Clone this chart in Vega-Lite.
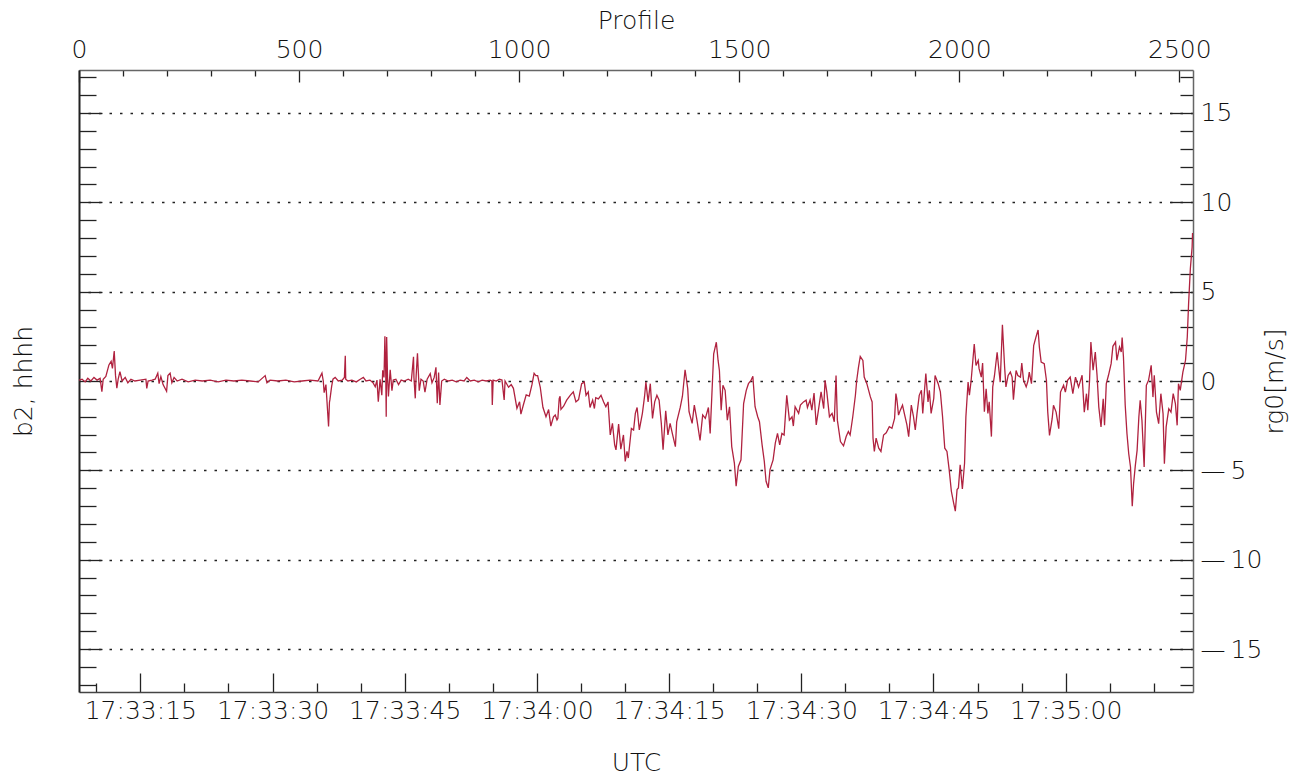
{
  "$schema": "https://vega.github.io/schema/vega-lite/v6.json",
  "autosize": "none",
  "width": 1114,
  "height": 622,
  "padding": {"left": 79, "top": 70, "right": 122, "bottom": 89},
  "background": "white",
  "config": {
    "view": {"stroke": null},
    "axis": {
      "labelFont": "DejaVu Sans",
      "titleFont": "DejaVu Sans",
      "labelFontSize": 25,
      "titleFontSize": 25,
      "labelFontWeight": 200,
      "titleFontWeight": 200,
      "labelColor": "#111111",
      "titleColor": "#111111",
      "domainColor": "#444444",
      "domainWidth": 1.5,
      "tickColor": "#222222",
      "tickWidth": 1.3,
      "labelOverlap": false,
      "labelFlush": false,
      "grid": false
    }
  },
  "layer": [
    {
      "data": {"values": [
        {"p":0,"v":0.05},{"p":7,"v":0.1},{"p":14,"v":-0.05},{"p":20,"v":0.15},{"p":27,"v":0.0},{"p":34,"v":0.2},{"p":41,"v":0.05},{"p":48,"v":0.15},{"p":52,"v":-0.6},{"p":55,"v":0.1},{"p":61,"v":0.25},{"p":68,"v":0.9},{"p":73,"v":1.1},{"p":76,"v":0.7},{"p":80,"v":1.68},{"p":83,"v":0.3},{"p":86,"v":-0.4},{"p":89,"v":0.1},{"p":93,"v":0.52},{"p":98,"v":0.0},{"p":105,"v":0.2},{"p":111,"v":-0.1},{"p":118,"v":0.1},{"p":127,"v":0.0},{"p":139,"v":0.05},{"p":152,"v":0.1},{"p":154,"v":-0.41},{"p":157,"v":0.0},{"p":166,"v":0.05},{"p":173,"v":0.1},{"p":179,"v":0.44},{"p":182,"v":-0.15},{"p":186,"v":0.25},{"p":191,"v":-0.2},{"p":199,"v":-0.57},{"p":202,"v":0.3},{"p":207,"v":0.44},{"p":211,"v":-0.1},{"p":216,"v":0.2},{"p":223,"v":0.0},{"p":234,"v":0.1},{"p":248,"v":-0.05},{"p":264,"v":0.05},{"p":280,"v":0.0},{"p":298,"v":0.05},{"p":316,"v":-0.05},{"p":334,"v":0.05},{"p":352,"v":0.0},{"p":370,"v":0.05},{"p":389,"v":0.0},{"p":407,"v":-0.05},{"p":423,"v":0.3},{"p":427,"v":-0.1},{"p":434,"v":0.05},{"p":452,"v":0.0},{"p":470,"v":0.05},{"p":489,"v":-0.05},{"p":507,"v":0.0},{"p":525,"v":0.05},{"p":543,"v":0.0},{"p":552,"v":0.44},{"p":555,"v":0.0},{"p":557,"v":-0.65},{"p":561,"v":-0.2},{"p":567,"v":-2.55},{"p":569,"v":-1.2},{"p":570,"v":-1.06},{"p":574,"v":-0.3},{"p":577,"v":0.1},{"p":582,"v":0.2},{"p":589,"v":0.0},{"p":598,"v":0.05},{"p":603,"v":0.2},{"p":605,"v":1.41},{"p":606,"v":0.1},{"p":611,"v":0.0},{"p":620,"v":0.05},{"p":630,"v":-0.05},{"p":639,"v":0.1},{"p":646,"v":0.2},
        {"p":652,"v":0.0},{"p":661,"v":0.05},{"p":668,"v":-0.1},{"p":673,"v":-0.32},{"p":677,"v":0.05},{"p":680,"v":-1.16},{"p":684,"v":0.1},{"p":688,"v":-0.8},{"p":690,"v":0.6},{"p":693,"v":0.2},{"p":695,"v":2.5},{"p":697,"v":0.3},{"p":698,"v":-2.0},{"p":699,"v":2.46},{"p":701,"v":0.2},{"p":703,"v":-0.86},{"p":707,"v":0.63},{"p":711,"v":-0.54},{"p":714,"v":0.05},{"p":720,"v":0.1},{"p":726,"v":-0.2},{"p":732,"v":0.05},{"p":739,"v":0.0},{"p":748,"v":0.1},{"p":755,"v":0.0},{"p":760,"v":1.36},{"p":761,"v":0.2},{"p":764,"v":-0.97},{"p":766,"v":0.3},{"p":769,"v":1.55},{"p":771,"v":0.5},{"p":773,"v":-0.54},{"p":777,"v":0.1},{"p":782,"v":0.0},{"p":786,"v":-0.63},{"p":791,"v":0.1},{"p":798,"v":0.41},{"p":802,"v":-0.1},{"p":807,"v":0.2},{"p":811,"v":0.77},{"p":814,"v":-1.25},{"p":817,"v":0.47},{"p":820,"v":-1.34},{"p":824,"v":0.0},{"p":830,"v":0.1},{"p":839,"v":0.0},{"p":848,"v":0.05},{"p":857,"v":-0.05},{"p":866,"v":0.05},{"p":875,"v":0.0},{"p":881,"v":0.2},{"p":889,"v":0.0},{"p":898,"v":0.05},{"p":907,"v":-0.05},{"p":916,"v":0.05},{"p":925,"v":0.0},{"p":934,"v":0.05},{"p":938,"v":0.0},{"p":939,"v":-1.34},{"p":941,"v":0.05},{"p":948,"v":0.0},{"p":955,"v":0.1},{"p":961,"v":0.05},{"p":966,"v":-1.06},{"p":968,"v":0.0},{"p":976,"v":-0.35},{"p":982,"v":-0.2},{"p":987,"v":-0.41},{"p":995,"v":-1.53},{"p":1001,"v":-1.16},{"p":1004,"v":-1.85},{"p":1010,"v":-1.3},{"p":1016,"v":-0.78},{"p":1023,"v":-0.85},{"p":1029,"v":-0.22},{"p":1034,"v":0.43},{"p":1038,"v":0.3},{"p":1042,"v":0.3},{"p":1048,"v":-0.35},{"p":1054,"v":-1.47},{"p":1061,"v":-2.0},{"p":1067,"v":-1.6},{"p":1072,"v":-2.52},{"p":1078,"v":-2.0},{"p":1082,"v":-1.9},{"p":1086,"v":-2.18},{"p":1088,"v":-2.09},{"p":1091,"v":-0.98},{"p":1093,"v":-0.85},{"p":1095,"v":-1.59},{"p":1101,"v":-1.41},{"p":1108,"v":-1.07},{"p":1116,"v":-0.8},{"p":1123,"v":-0.61},{"p":1129,"v":-1.17},{"p":1135,"v":-1.04},{"p":1142,"v":-0.15},{"p":1148,"v":-0.06},{"p":1152,"v":-0.8},{"p":1157,"v":-0.61},{"p":1161,"v":-1.48},{"p":1167,"v":-1.07},{"p":1171,"v":-1.54},{"p":1174,"v":-0.93},{"p":1180,"v":-1.0},{"p":1186,"v":-0.8},{"p":1192,"v":-1.17},{"p":1197,"v":-1.44},{"p":1202,"v":-1.17},{"p":1207,"v":-3.02},{"p":1212,"v":-2.37},{"p":1217,"v":-3.57},{"p":1220,"v":-3.85},{"p":1226,"v":-2.41},{"p":1231,"v":-3.81},{"p":1237,"v":-3.02},{"p":1241,"v":-4.5},{"p":1245,"v":-3.94},{"p":1248,"v":-4.31},{"p":1255,"v":-2.65},{"p":1260,"v":-2.74},{"p":1264,"v":-1.81},{"p":1268,"v":-1.48},{"p":1273,"v":-2.74},{"p":1280,"v":-1.81},{"p":1285,"v":-0.85},{"p":1288,"v":-0.06},{"p":1293,"v":-1.17},{"p":1298,"v":-0.15},{"p":1303,"v":-2.09},{"p":1308,"v":-1.17},{"p":1313,"v":-0.8},{"p":1318,"v":-1.07},{"p":1323,"v":-2.37},{"p":1327,"v":-3.85},{"p":1333,"v":-1.67},{"p":1338,"v":-3.02},{"p":1343,"v":-2.37},{"p":1348,"v":-2.93},{"p":1355,"v":-3.67},{"p":1358,"v":-2.28},{"p":1366,"v":-1.48},{"p":1371,"v":-0.85},{"p":1377,"v":0.63},{"p":1383,"v":-0.43},{"p":1386,"v":-1.72},{"p":1393,"v":-2.37},{"p":1398,"v":-1.35},{"p":1404,"v":-2.19},{"p":1411,"v":-3.33},{"p":1417,"v":-1.9},{"p":1423,"v":-2.09},{"p":1430,"v":-1.48},{"p":1434,"v":-2.93},{"p":1438,"v":-0.7},{"p":1442,"v":1.52},{"p":1448,"v":2.17},{"p":1452,"v":1.15},{"p":1455,"v":0.59},{"p":1459,"v":-1.63},{"p":1463,"v":-0.24},{"p":1468,"v":-0.52},{"p":1473,"v":-2.19},{"p":1478,"v":-1.44},{"p":1483,"v":-3.67},{"p":1489,"v":-4.59},{"p":1493,"v":-5.89},{"p":1498,"v":-4.78},{"p":1504,"v":-4.41},{"p":1510,"v":-1.26},{"p":1516,"v":-0.52},{"p":1521,"v":-0.15},{"p":1527,"v":0.04},{"p":1531,"v":0.26},{"p":1536,"v":-1.44},{"p":1542,"v":-2.0},{"p":1546,"v":-2.28},{"p":1552,"v":-3.57},{"p":1557,"v":-4.5},{"p":1561,"v":-5.61},{"p":1566,"v":-5.98},{"p":1570,"v":-4.96},{"p":1577,"v":-4.41},{"p":1582,"v":-3.48},{"p":1587,"v":-2.93},{"p":1592,"v":-3.57},{"p":1597,"v":-2.93},{"p":1602,"v":-3.02},{"p":1608,"v":-0.8},{"p":1614,"v":-2.19},{"p":1620,"v":-2.0},{"p":1623,"v":-2.52},{"p":1627,"v":-1.44},{"p":1635,"v":-1.81},{"p":1639,"v":-1.35},{"p":1646,"v":-1.17},{"p":1652,"v":-1.07},{"p":1655,"v":-1.48},{"p":1661,"v":-1.07},{"p":1665,"v":-1.63},{"p":1670,"v":-0.67},{"p":1675,"v":-2.46},{"p":1680,"v":-1.63},{"p":1686,"v":-0.61},{"p":1692,"v":-1.54},{"p":1695,"v":0.04},{"p":1699,"v":-0.61},{"p":1705,"v":-2.0},{"p":1711,"v":-1.81},{"p":1716,"v":-2.28},{"p":1720,"v":0.31},{"p":1723,"v":-2.19},{"p":1730,"v":-3.39},{"p":1737,"v":-3.63},{"p":1743,"v":-3.11},{"p":1748,"v":-2.83},{"p":1752,"v":-3.02},{"p":1758,"v":-2.0},{"p":1764,"v":-0.8},{"p":1767,"v":0.04},{"p":1771,"v":0.78},{"p":1775,"v":1.37},{"p":1781,"v":1.15},{"p":1784,"v":0.22},{"p":1790,"v":-0.15},{"p":1798,"v":-0.89},{"p":1802,"v":-1.17},{"p":1804,"v":-3.2},{"p":1807,"v":-3.94},{"p":1811,"v":-3.2},{"p":1817,"v":-3.76},{"p":1822,"v":-3.94},{"p":1828,"v":-3.02},{"p":1834,"v":-2.9},{"p":1841,"v":-2.56},{"p":1847,"v":-2.65},{"p":1853,"v":-2.09},{"p":1856,"v":-0.7},{"p":1858,"v":-0.98},{"p":1862,"v":-1.91},{"p":1866,"v":-1.63},{"p":1871,"v":-1.35},{"p":1876,"v":-1.91},{"p":1881,"v":-2.46},{"p":1885,"v":-3.11},{"p":1891,"v":-1.35},{"p":1896,"v":-2.0},{"p":1900,"v":-2.74},{"p":1904,"v":-1.81},{"p":1909,"v":-0.8},{"p":1914,"v":-0.52},{"p":1917,"v":-1.81},{"p":1921,"v":-0.52},{"p":1924,"v":0.41},{"p":1929,"v":-1.17},{"p":1932,"v":-0.52},{"p":1936,"v":-1.81},{"p":1942,"v":-0.98},{"p":1945,"v":0.31},{"p":1952,"v":-0.15},{"p":1957,"v":-0.61},{"p":1962,"v":-2.0},{"p":1967,"v":-3.76},{"p":1972,"v":-3.94},{"p":1977,"v":-4.96},{"p":1982,"v":-6.17},{"p":1987,"v":-6.81},{"p":1991,"v":-7.28},{"p":1995,"v":-6.07},{"p":1998,"v":-5.98},{"p":2002,"v":-4.69},{"p":2007,"v":-6.04},{"p":2012,"v":-4.59},{"p":2015,"v":-2.0},{"p":2020,"v":-0.06},{"p":2023,"v":-0.8},{"p":2027,"v":0.04},{"p":2034,"v":2.07},{"p":2038,"v":0.87},{"p":2043,"v":1.15},{"p":2045,"v":0.69},{"p":2050,"v":0.22},{"p":2053,"v":1.0},{"p":2057,"v":-1.72},{"p":2061,"v":-0.43},{"p":2065,"v":-1.81},{"p":2068,"v":-1.17},{"p":2073,"v":-3.11},{"p":2076,"v":-0.33},{"p":2080,"v":0.31},{"p":2086,"v":1.61},{"p":2089,"v":0.87},{"p":2093,"v":-0.06},{"p":2098,"v":3.15},{"p":2103,"v":0.78},{"p":2106,"v":-0.33},{"p":2111,"v":0.31},{"p":2116,"v":0.5},{"p":2120,"v":0.22},{"p":2123,"v":-1.04},{"p":2129,"v":0.59},{"p":2133,"v":0.31},{"p":2139,"v":0.22},{"p":2142,"v":1.0},{"p":2146,"v":0.04},{"p":2152,"v":-0.33},{"p":2156,"v":0.0},{"p":2159,"v":0.5},{"p":2164,"v":-0.15},{"p":2169,"v":1.98},{"p":2174,"v":2.44},{"p":2179,"v":2.85},{"p":2182,"v":1.89},{"p":2186,"v":1.06},{"p":2193,"v":0.97},{"p":2198,"v":0.04},{"p":2201,"v":-1.74},{"p":2205,"v":-3.04},{"p":2211,"v":-2.11},{"p":2214,"v":-1.36},{"p":2220,"v":-1.74},{"p":2226,"v":-2.67},{"p":2230,"v":-0.62},{"p":2237,"v":-0.24},{"p":2241,"v":-0.62},{"p":2246,"v":0.04},{"p":2252,"v":0.22},{"p":2258,"v":-0.71},{"p":2264,"v":0.22},{"p":2271,"v":-0.34},{"p":2279,"v":0.32},{"p":2284,"v":-1.74},{"p":2289,"v":-0.71},{"p":2292,"v":-1.64},{"p":2296,"v":0.04},{"p":2299,"v":2.18},{"p":2304,"v":0.6},{"p":2309,"v":1.62},{"p":2313,"v":0.32},{"p":2317,"v":-1.46},{"p":2322,"v":-2.57},{"p":2327,"v":-0.99},{"p":2330,"v":-2.48},{"p":2334,"v":-0.15},{"p":2339,"v":0.32},{"p":2345,"v":0.97},{"p":2349,"v":1.94},{"p":2355,"v":2.18},{"p":2358,"v":1.16},{"p":2364,"v":1.9},{"p":2368,"v":1.62},{"p":2370,"v":2.43},{"p":2373,"v":1.34},{"p":2377,"v":-1.36},{"p":2381,"v":-2.95},{"p":2385,"v":-4.07},{"p":2389,"v":-4.81},{"p":2393,"v":-7.01},{"p":2396,"v":-5.75},{"p":2400,"v":-4.72},{"p":2404,"v":-3.88},{"p":2408,"v":-2.01},{"p":2411,"v":-1.08},{"p":2415,"v":-2.2},{"p":2420,"v":-4.81},{"p":2425,"v":-0.24},{"p":2430,"v":0.04},{"p":2436,"v":0.88},{"p":2440,"v":-0.9},{"p":2443,"v":0.32},{"p":2448,"v":-1.74},{"p":2453,"v":-2.39},{"p":2458,"v":-0.71},{"p":2463,"v":-1.83},{"p":2466,"v":-4.63},{"p":2470,"v":-2.57},{"p":2476,"v":-1.55},{"p":2481,"v":-1.74},{"p":2486,"v":-0.71},{"p":2491,"v":-1.27},{"p":2495,"v":-2.48},{"p":2498,"v":-0.15},{"p":2502,"v":-0.52},{"p":2508,"v":0.5},{"p":2514,"v":1.16},{"p":2518,"v":2.46},{"p":2521,"v":4.33},{"p":2525,"v":6.29},{"p":2529,"v":7.5},{"p":2530,"v":8.28}
      ]},
      "mark": {"type": "line", "color": "#b0223f", "strokeWidth": 1.3, "clip": true},
      "encoding": {
        "x": {
          "field": "p", "type": "quantitative",
          "scale": {"domain": [0, 2531], "nice": false, "zero": false},
          "axis": {
            "orient": "top", "title": "Profile", "titlePadding": -2,
            "format": "d",
            "values": [0,100,200,300,400,500,600,700,800,900,1000,1100,1200,1300,1400,1500,1600,1700,1800,1900,2000,2100,2200,2300,2400,2500],
            "labelExpr": "datum.value % 500 === 0 ? datum.label : ''",
            "tickSize": {"condition": {"test": "datum.value % 500 === 0", "value": -12}, "value": -6},
            "labelPadding": 20,
            "domainColor": "#666666"
          }
        },
        "y": {
          "field": "v", "type": "quantitative",
          "scale": {"domain": [-17.4, 17.4], "nice": false, "zero": false},
          "axis": {
            "orient": "right", "title": "rg0[m/s]", "titleAngle": 270, "titlePadding": 26,
            "values": [-17,-16,-15,-14,-13,-12,-11,-10,-9,-8,-7,-6,-5,-4,-3,-2,-1,0,1,2,3,4,5,6,7,8,9,10,11,12,13,14,15,16,17],
            "labelExpr": "datum.value % 5 === 0 ? (datum.value < 0 ? '\u2014\u2009' + abs(datum.value) : '' + datum.value) : ''",
            "tickSize": {"condition": {"test": "datum.value % 5 === 0", "value": -23}, "value": -13},
            "labelPadding": 30,
            "grid": true,
            "gridColor": "#222222",
            "gridDash": [2.5, 8],
            "gridWidth": 1.3,
            "gridOpacity": {"condition": {"test": "datum.value % 5 === 0", "value": 1}, "value": 0},
            "domainColor": "#666666"
          }
        }
      }
    },
    {
      "data": {"values": [{"t": 1988.04, "v": 0}, {"t": 2114.45, "v": 0}]},
      "mark": {"type": "point", "opacity": 0},
      "encoding": {
        "x": {
          "field": "t", "type": "quantitative",
          "scale": {"domain": [1988.04, 2114.45], "nice": false, "zero": false},
          "axis": {
            "orient": "bottom", "title": "UTC", "titlePadding": 17,
            "values": [1990,1995,2000,2005,2010,2015,2020,2025,2030,2035,2040,2045,2050,2055,2060,2065,2070,2075,2080,2085,2090,2095,2100,2105,2110],
            "labelExpr": "datum.value % 15 === 0 ? '17:' + floor(datum.value / 60) + ':' + format(datum.value % 60, '02d') : ''",
            "tickSize": {"condition": {"test": "datum.value % 15 === 0", "value": -19}, "value": -9},
            "labelPadding": 25,
            "domainColor": "#444444"
          }
        },
        "y": {
          "field": "v", "type": "quantitative",
          "axis": {
            "orient": "left", "title": "b2, hhhh", "titlePadding": 42,
            "values": [-17,-16,-15,-14,-13,-12,-11,-10,-9,-8,-7,-6,-5,-4,-3,-2,-1,0,1,2,3,4,5,6,7,8,9,10,11,12,13,14,15,16,17],
            "labels": false,
            "tickSize": {"condition": {"test": "datum.value % 5 === 0", "value": -23}, "value": -17},
            "domainColor": "#222222",
            "domainWidth": 2
          }
        }
      }
    }
  ],
  "resolve": {"scale": {"x": "independent"}, "axis": {"x": "independent", "y": "independent"}}
}
